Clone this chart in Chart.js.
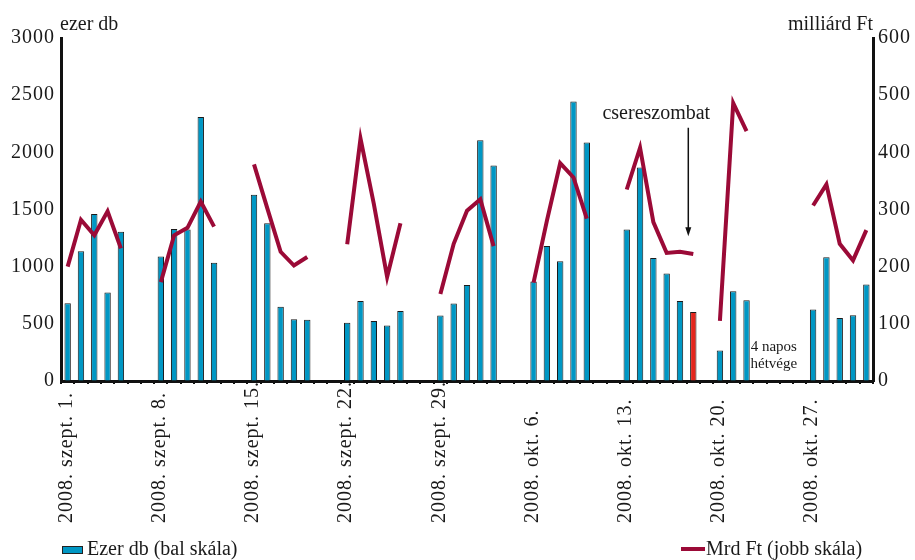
<!DOCTYPE html>
<html>
<head>
<meta charset="utf-8">
<script src="https://cdn.jsdelivr.net/npm/chart.js@4/dist/chart.umd.min.js"></script>
<style>
    body { margin: 0; background: #fff; }
    #wrap { width: 915px; height: 560px; position: relative; }
</style>
</head>
<body>
<div id="wrap"><canvas id="chart" width="915" height="560"></canvas></div>
<script>
// Napok (2008. szept. 1. - okt. 31.)
const days = [
    "szept. 1.", "szept. 2.", "szept. 3.", "szept. 4.", "szept. 5.", "szept. 6.", "szept. 7.",
    "szept. 8.", "szept. 9.", "szept. 10.", "szept. 11.", "szept. 12.", "szept. 13.", "szept. 14.",
    "szept. 15.", "szept. 16.", "szept. 17.", "szept. 18.", "szept. 19.", "szept. 20.", "szept. 21.",
    "szept. 22.", "szept. 23.", "szept. 24.", "szept. 25.", "szept. 26.", "szept. 27.", "szept. 28.",
    "szept. 29.", "szept. 30.", "okt. 1.", "okt. 2.", "okt. 3.", "okt. 4.", "okt. 5.",
    "okt. 6.", "okt. 7.", "okt. 8.", "okt. 9.", "okt. 10.", "okt. 11.", "okt. 12.",
    "okt. 13.", "okt. 14.", "okt. 15.", "okt. 16.", "okt. 17.", "okt. 18.", "okt. 19.",
    "okt. 20.", "okt. 21.", "okt. 22.", "okt. 23.", "okt. 24.", "okt. 25.", "okt. 26.",
    "okt. 27.", "okt. 28.", "okt. 29.", "okt. 30.", "okt. 31."
];

// Csak ezek a napok kapnak feliratot
const shownTicks = ["szept. 1.", "szept. 8.", "szept. 15.", "szept. 22.", "szept. 29.",
    "okt. 6.", "okt. 13.", "okt. 20.", "okt. 27."];

// Ezer db (bal skála)
const ezerDb = [
    680, 1135, 1460, 775, 1305, null, null,
    1090, 1330, 1325, 2310, 1035, null, null,
    1630, 1380, 650, 540, 535, null, null,
    510, 700, 525, 485, 612, null, null,
    572, 677, 840, 2105, 1885, null, null,
    870, 1180, 1047, 2445, 2085, null, null,
    1325, 1867, 1076, 940, 700, 604, null,
    266, 785, 706, null, null, null, null,
    625, 1082, 551, 575, 843
];

// Mrd Ft (jobb skála)
const mrdFt = [
    200, 282, 255, 297, 232, null, null,
    173, 255, 268, 314, 270, null, null,
    379, 302, 226, 202, 217, null, null,
    239, 424, 310, 182, 276, null, null,
    152, 240, 298, 318, 236, null, null,
    172, 280, 381, 356, 284, null, null,
    335, 408, 278, 224, 226, 222, null,
    105, 486, 437, null, null, null, null,
    307, 344, 240, 211, 264
];

// csereszombat (piros oszlop)
const cseresNap = "okt. 18.";

const barColor = "#0097c4";
const redColor = "#e3261d";
const lineColor = "#9b0a37";
const textColor = "#1a1a1a";
const serif = "'Liberation Serif', 'DejaVu Serif', serif";

// Ritkított betűk a tengelyfeliratokhoz
const spacingPlugin = {
    id: "spacing",
    beforeDraw(chart) { chart.ctx.letterSpacing = "1px"; },
    beforeDatasetsDraw(chart) { chart.ctx.letterSpacing = "0px"; }
};

// Dátumfeliratok, megjegyzések, nyíl, jelmagyarázat
const extrasPlugin = {
    id: "extras",
    afterDraw(chart) {
        const ctx = chart.ctx;
        const x = chart.scales.x;
        const y2 = chart.scales.y2;
        const area = chart.chartArea;
        ctx.save();
        ctx.fillStyle = textColor;

        // függőleges dátumfeliratok (alulra igazítva)
        ctx.font = "20px " + serif;
        ctx.letterSpacing = "1px";
        ctx.textAlign = "left";
        ctx.textBaseline = "middle";
        shownTicks.forEach(d => {
            const px = x.getPixelForValue(days.indexOf(d)) - 1;
            ctx.save();
            ctx.translate(px, 523);
            ctx.rotate(-Math.PI / 2);
            ctx.fillText("2008. " + d, 0, 0);
            ctx.restore();
        });
        ctx.letterSpacing = "0px";

        ctx.fillText("ezer db", area.left - 1, 25);
        ctx.textAlign = "right";
        ctx.fillText("milliárd Ft", area.right, 25);

        // csereszombat nyíl
        const ax = x.getPixelForValue(days.indexOf(cseresNap)) - 5;
        ctx.textAlign = "center";
        ctx.fillText("csereszombat", ax - 32, 114);
        ctx.strokeStyle = "#111";
        ctx.lineWidth = 1.5;
        ctx.beginPath();
        ctx.moveTo(ax, y2.getPixelForValue(443));
        ctx.lineTo(ax, y2.getPixelForValue(262));
        ctx.stroke();
        const tipY = y2.getPixelForValue(253);
        ctx.fillStyle = "#111";
        ctx.beginPath();
        ctx.moveTo(ax, tipY);
        ctx.lineTo(ax - 3, tipY - 9);
        ctx.lineTo(ax + 3, tipY - 9);
        ctx.closePath();
        ctx.fill();

        // 4 napos hétvége
        ctx.fillStyle = textColor;
        ctx.font = "15px " + serif;
        const hx = (x.getPixelForValue(days.indexOf("okt. 23.")) + x.getPixelForValue(days.indexOf("okt. 26."))) / 2 - 6;
        ctx.fillText("4 napos", hx, 347);
        ctx.fillText("hétvége", hx, 364);

        // jelmagyarázat
        ctx.font = "20px " + serif;
        ctx.textAlign = "left";
        ctx.fillStyle = barColor;
        ctx.fillRect(62, 546, 21, 8);
        ctx.strokeStyle = "#222";
        ctx.lineWidth = 1;
        ctx.strokeRect(62.5, 546.5, 20, 7);
        ctx.fillStyle = textColor;
        ctx.fillText("Ezer db (bal skála)", 87, 550);

        ctx.strokeStyle = lineColor;
        ctx.lineWidth = 4;
        ctx.beginPath();
        ctx.moveTo(681, 549);
        ctx.lineTo(705, 549);
        ctx.stroke();
        ctx.fillText("Mrd Ft (jobb skála)", 706, 550);
        ctx.restore();
    }
};

const chart = new Chart(document.getElementById("chart").getContext("2d"), {
    data: {
        labels: days,
        datasets: [
            {
                type: "line",
                label: "Mrd Ft (jobb skála)",
                data: mrdFt,
                yAxisID: "y2",
                borderColor: lineColor,
                borderWidth: 4,
                pointRadius: 0,
                tension: 0,
                spanGaps: false,
                borderJoinStyle: "miter"
            },
            {
                type: "bar",
                label: "Ezer db (bal skála)",
                data: ezerDb,
                yAxisID: "y",
                backgroundColor: ctx => days[ctx.dataIndex] === cseresNap ? redColor : barColor,
                borderColor: "#1b1b1b",
                borderWidth: 1,
                barPercentage: 0.48,
                categoryPercentage: 1
            }
        ]
    },
    options: {
        responsive: false,
        animation: false,
        devicePixelRatio: 1,
        layout: { padding: { top: 38, left: 0, right: 0, bottom: 0 } },
        plugins: {
            legend: { display: false },
            tooltip: { enabled: false }
        },
        scales: {
            x: {
                offset: true,
                grid: {
                    offset: true,
                    drawOnChartArea: false,
                    color: "#111",
                    tickLength: 3,
                    lineWidth: 2
                },
                border: { color: "#111", width: 3 },
                ticks: { display: false, autoSkip: false },
                afterFit: scale => { scale.height = 179; }
            },
            y: {
                position: "left",
                min: 0,
                max: 3000,
                grid: { drawOnChartArea: false, drawTicks: false },
                border: { color: "#111", width: 3 },
                ticks: {
                    stepSize: 500,
                    padding: 6,
                    color: textColor,
                    font: { family: serif, size: 20 },
                    callback: v => String(v)
                },
                afterFit: scale => { scale.width = 61; }
            },
            y2: {
                position: "right",
                min: 0,
                max: 600,
                grid: { drawOnChartArea: false, drawTicks: false },
                border: { color: "#111", width: 3 },
                ticks: {
                    stepSize: 100,
                    padding: 5,
                    color: textColor,
                    font: { family: serif, size: 20 },
                    callback: v => String(v)
                },
                afterFit: scale => { scale.width = 42; }
            }
        }
    },
    plugins: [spacingPlugin, extrasPlugin]
});
</script>
</body>
</html>
